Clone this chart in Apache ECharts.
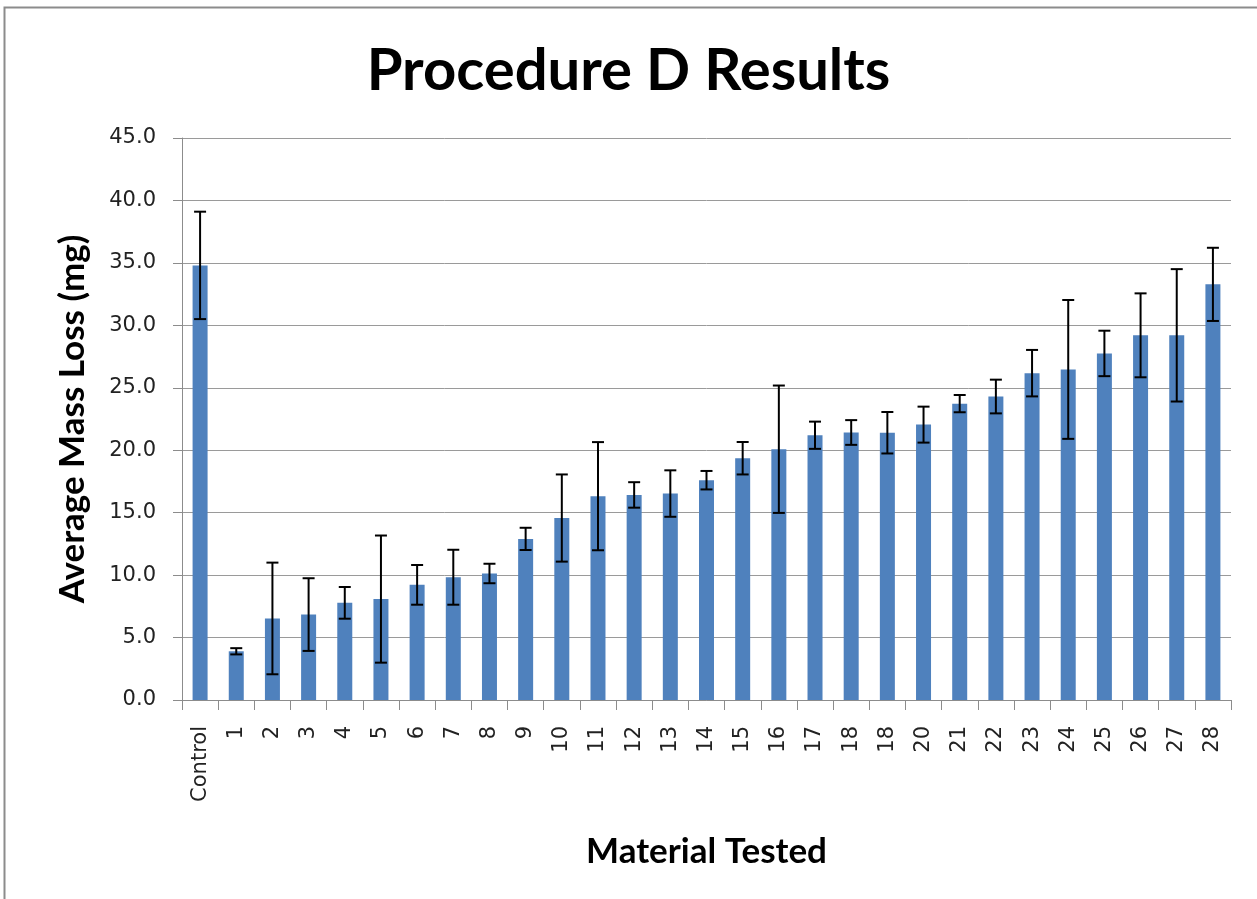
<!DOCTYPE html>
<html>
<head>
<meta charset="utf-8">
<script src="https://cdn.jsdelivr.net/npm/echarts@6/dist/echarts.min.js"></script>
<style>
html,body{margin:0;padding:0;background:#fff;}
#chart{width:1257px;height:899px;}
</style>
</head>
<body>
<div id="chart"></div>
<script>
var categories = ['Control','1','2','3','4','5','6','7','8','9','10','11','12','13','14','15','16','17','18','18','20','21','22','23','24','25','26','27','28'];
var means = [34.8, 3.9, 6.53, 6.84, 7.78, 8.08, 9.22, 9.83, 10.13, 12.9, 14.57, 16.32, 16.42, 16.53, 17.6, 19.36, 20.08, 21.2, 21.42, 21.4, 22.05, 23.73, 24.3, 26.17, 26.47, 27.75, 29.2, 29.2, 33.28];
var errors = [4.3, 0.25, 4.47, 2.91, 1.27, 5.09, 1.59, 2.2, 0.78, 0.89, 3.49, 4.33, 1.02, 1.86, 0.74, 1.3, 5.1, 1.09, 0.99, 1.66, 1.44, 0.69, 1.35, 1.86, 5.56, 1.82, 3.36, 5.3, 2.93];
var yTicks = {min: 0, max: 45, interval: 5};

var errData = means.map(function (m, i) { return [i, m - errors[i], m + errors[i]]; });

var chart = echarts.init(document.getElementById('chart'), null, {renderer: 'canvas'});
chart.setOption({
  backgroundColor: '#ffffff',
  animation: false,
  title: {
    text: 'Procedure D Results',
    left: 'center',
    top: 37,
    textStyle: {fontFamily: 'Lato', fontWeight: 'bold', fontSize: 58, color: '#000'}
  },
  graphic: [{
    type: 'rect',
    shape: {x: 4.5, y: 7.5, width: 1400, height: 1000},
    style: {fill: 'none', stroke: '#8c8c8c', lineWidth: 2},
    silent: true
  }],
  grid: {left: 182, right: 26, top: 138, bottom: 199, containLabel: false},
  xAxis: {
    type: 'category',
    data: categories,
    name: 'Material Tested',
    nameLocation: 'middle',
    nameGap: 134,
    nameTextStyle: {fontFamily: 'Lato', fontWeight: 'bold', fontSize: 35, color: '#000'},
    axisLine: {lineStyle: {color: '#8c8c8c', width: 1}},
    axisTick: {show: true, length: 10, lineStyle: {color: '#8c8c8c'}},
    axisLabel: {rotate: 90, margin: 26, fontFamily: 'DejaVu Sans', fontSize: 21, color: '#222', interval: 0}
  },
  yAxis: {
    type: 'value',
    min: yTicks.min,
    max: yTicks.max,
    interval: yTicks.interval,
    name: 'Average Mass Loss (mg)',
    nameLocation: 'middle',
    nameRotate: 90,
    nameGap: 92,
    nameTextStyle: {fontFamily: 'Lato', fontWeight: 'bold', fontSize: 35, color: '#000'},
    axisLine: {show: true, lineStyle: {color: '#8c8c8c', width: 1}},
    axisTick: {show: true, length: 9, lineStyle: {color: '#8c8c8c'}},
    splitLine: {lineStyle: {color: '#9a9a9a', width: 1}},
    axisLabel: {margin: 26, fontFamily: 'DejaVu Sans', fontSize: 21, color: '#222',
      formatter: function (v) { return v.toFixed(1); }}
  },
  series: [{
    type: 'bar',
    data: means,
    barWidth: 15,
    itemStyle: {color: '#4f81bd'}
  }, {
    type: 'custom',
    data: errData,
    z: 10,
    renderItem: function (params, api) {
      var x = api.value(0);
      var lo = api.coord([x, api.value(1)]);
      var hi = api.coord([x, api.value(2)]);
      var hw = 6;
      var st = {stroke: '#000', lineWidth: 2};
      return {
        type: 'group',
        children: [
          {type: 'line', shape: {x1: hi[0], y1: hi[1], x2: lo[0], y2: lo[1]}, style: st},
          {type: 'line', shape: {x1: hi[0] - hw, y1: hi[1], x2: hi[0] + hw, y2: hi[1]}, style: st},
          {type: 'line', shape: {x1: lo[0] - hw, y1: lo[1], x2: lo[0] + hw, y2: lo[1]}, style: st}
        ]
      };
    }
  }]
});
</script>
</body>
</html>
